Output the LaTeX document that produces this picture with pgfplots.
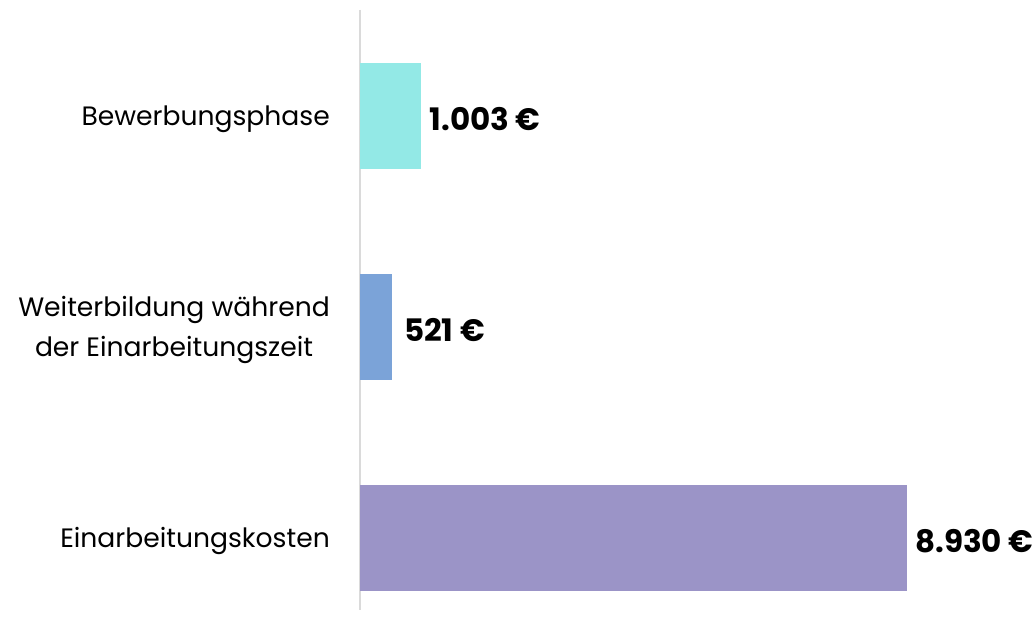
\documentclass[border=0pt]{standalone}
\usepackage{pgfplots}
\pgfplotsset{compat=1.18}
\usepackage{fontspec}
\setmainfont{Poppins}
\definecolor{cA}{HTML}{93E9E6}
\definecolor{cB}{HTML}{7BA3D8}
\definecolor{cC}{HTML}{9B94C7}
\definecolor{axgray}{HTML}{DADADA}
\begin{document}
\begin{tikzpicture}[x=1pt,y=1pt]
\path[use as bounding box] (0,0) rectangle (1034,639);
\begin{axis}[
  at={(360pt,29pt)}, anchor=south west,
  scale only axis, width=547pt, height=600pt,
  xmin=0, xmax=8930, ymin=-0.502, ymax=2.341,
  y dir=reverse,
  axis x line=none,
  axis y line=left,
  axis line style={draw=axgray, line width=1.5pt, -},
  clip=false,
  xbar, bar width=0.5, bar shift=0pt,
  ytick={0,1,2},
  yticklabels={Bewerbungsphase, {Weiterbildung während\\der Einarbeitungszeit}, Einarbeitungskosten},
  major tick length=0pt,
  yticklabel style={font=\fontsize{26.6}{40}\selectfont, align=center, inner sep=0pt, xshift=-30pt, yshift=-3pt},
  point meta=explicit symbolic,
  nodes near coords,
  nodes near coords style={font=\fontsize{31}{34}\selectfont\bfseries, anchor=west, inner sep=0pt, xshift=8pt, yshift=-3pt},
]
\addplot[fill=cA, draw=none] coordinates {(1003,0) [1.003 €]};
\addplot[fill=cB, draw=none, nodes near coords style={xshift=4pt}] coordinates {(521,1) [521 €]};
\addplot[fill=cC, draw=none] coordinates {(8930,2) [8.930 €]};
\end{axis}
\end{tikzpicture}
\end{document}
